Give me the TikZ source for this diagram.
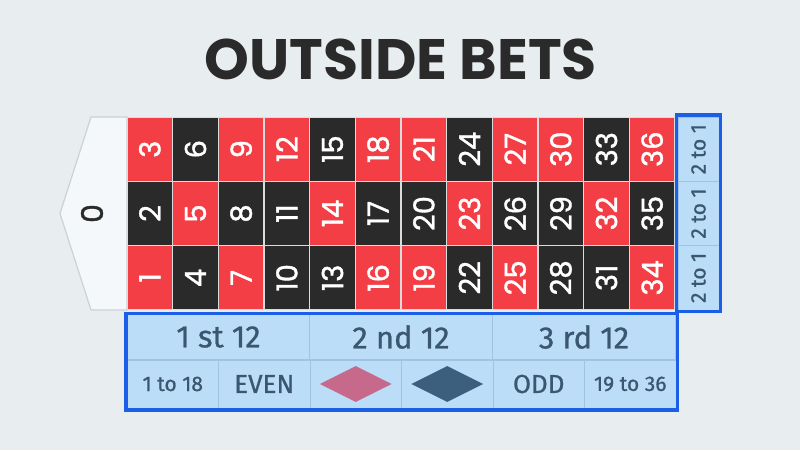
\documentclass[tikz,border=0pt]{standalone}
\usepackage{fontspec}
\newfontfamily\popfont{Poppins}
\newfontfamily\popnum{Poppins}[FakeBold=1.3]
\newfontfamily\firafont{Fira Sans}[FakeBold=0.8]
\definecolor{bg}{HTML}{E8EEF0}
\definecolor{rred}{HTML}{F43E45}
\definecolor{rblk}{HTML}{2A2A2A}
\definecolor{sep}{HTML}{D9DCDD}
\definecolor{lblue}{HTML}{BCDDF7}
\definecolor{dline}{HTML}{9EC4E2}
\definecolor{bblue}{HTML}{1B5FE8}
\definecolor{slate}{HTML}{3A5670}
\definecolor{dred}{HTML}{C7698A}
\definecolor{dblk}{HTML}{3C5F7E}
\definecolor{zfill}{HTML}{F4F8FA}
\definecolor{zline}{HTML}{CBD1D4}
\tikzset{
  numcell/.style={rotate=90, minimum width=62.8pt, minimum height=44.2pt, inner sep=0pt, text=white, font=\popnum\fontsize{29}{29}\selectfont},
  colcell/.style={rotate=90, minimum width=64.3pt, minimum height=41pt, inner sep=0pt, fill=lblue, draw=dline, line width=0.8pt, text=slate, font=\firafont\fontsize{21}{21}\selectfont},
  bigcell/.style={minimum width=183pt, minimum height=45pt, inner sep=0pt, fill=lblue, draw=dline, line width=0.8pt, text=slate, font=\firafont\fontsize{31}{31}\selectfont},
  smallcell/.style={minimum width=91.5pt, minimum height=48pt, inner sep=0pt, fill=lblue, draw=dline, line width=0.8pt, text=slate, font=\firafont\fontsize{21}{21}\selectfont},
  bigword/.style={font=\firafont\fontsize{26}{26}\selectfont},
  hilite/.style={draw=bblue, line width=3.5pt},
  diam/.style={diamond, minimum width=72pt, minimum height=36pt, inner sep=0pt, aspect=2}
}
\usetikzlibrary{shapes.geometric}
\begin{document}
\begin{tikzpicture}[x=1pt,y=-1pt]
\fill[bg] (0,0) rectangle (800,450);
\useasboundingbox (0,0) rectangle (800,450);
% title
\node[font=\popfont\bfseries\fontsize{57}{57}\selectfont, text=rblk] (title) at (401,59) {OUTSIDE BETS};
% zero
\draw[fill=zfill, draw=zline, line width=1.2pt] (127,117) -- (91,117) -- (60,213.5) -- (91,310) -- (127,310) -- cycle;
\node[rotate=90, font=\popnum\fontsize{30}{30}\selectfont, text=rblk] (zero) at (92,213.5) {0};
% number grid background
\fill[sep] (127,117) rectangle (675,310);
\foreach \n/\col in {1/rred,2/rblk,3/rred,4/rblk,5/rred,6/rblk,7/rred,8/rblk,9/rred,10/rblk,11/rblk,12/rred,13/rblk,14/rred,15/rblk,16/rred,17/rblk,18/rred,19/rred,20/rblk,21/rred,22/rblk,23/rred,24/rblk,25/rred,26/rblk,27/rred,28/rblk,29/rblk,30/rred,31/rblk,32/rred,33/rblk,34/rred,35/rblk,36/rred}{
  \pgfmathtruncatemacro\cc{int((\n-1)/3)}
  \pgfmathtruncatemacro\rr{2-mod(\n-1,3)}
  \node[numcell, fill=\col] (n\n) at ({127+45.667*\cc+22.83},{117+64.33*\rr+32.17}) {\n};
}
% column bets
\foreach \r in {0,1,2}{
  \node[colcell] (c\r) at (698.5,{117+64.33*\r+32.17}) {2 to 1};
}
\draw[hilite] (676.5,115) rectangle (720.5,311.5);
% dozens
\node[bigcell] (d1) at (218.5,337) {1 st 12};
\node[bigcell] (d2) at (401,337) {2 nd 12};
\node[bigcell] (d3) at (584,337) {3 rd 12};
% even money
\node[smallcell] (e1) at (172.75,384) {1 to 18};
\node[smallcell, bigword] (e2) at (264.25,384) {EVEN};
\node[smallcell] (e3) at (355.75,384) {};
\node[smallcell] (e4) at (447.25,384) {};
\node[smallcell, bigword] (e5) at (538.75,384) {ODD};
\node[smallcell] (e6) at (630.25,384) {19 to 36};
\node[diam, fill=dred] (red) at (e3) {};
\node[diam, fill=dblk] (blk) at (e4) {};
\draw[hilite] (126,313.5) rectangle (677.5,410);
\end{tikzpicture}
\end{document}
